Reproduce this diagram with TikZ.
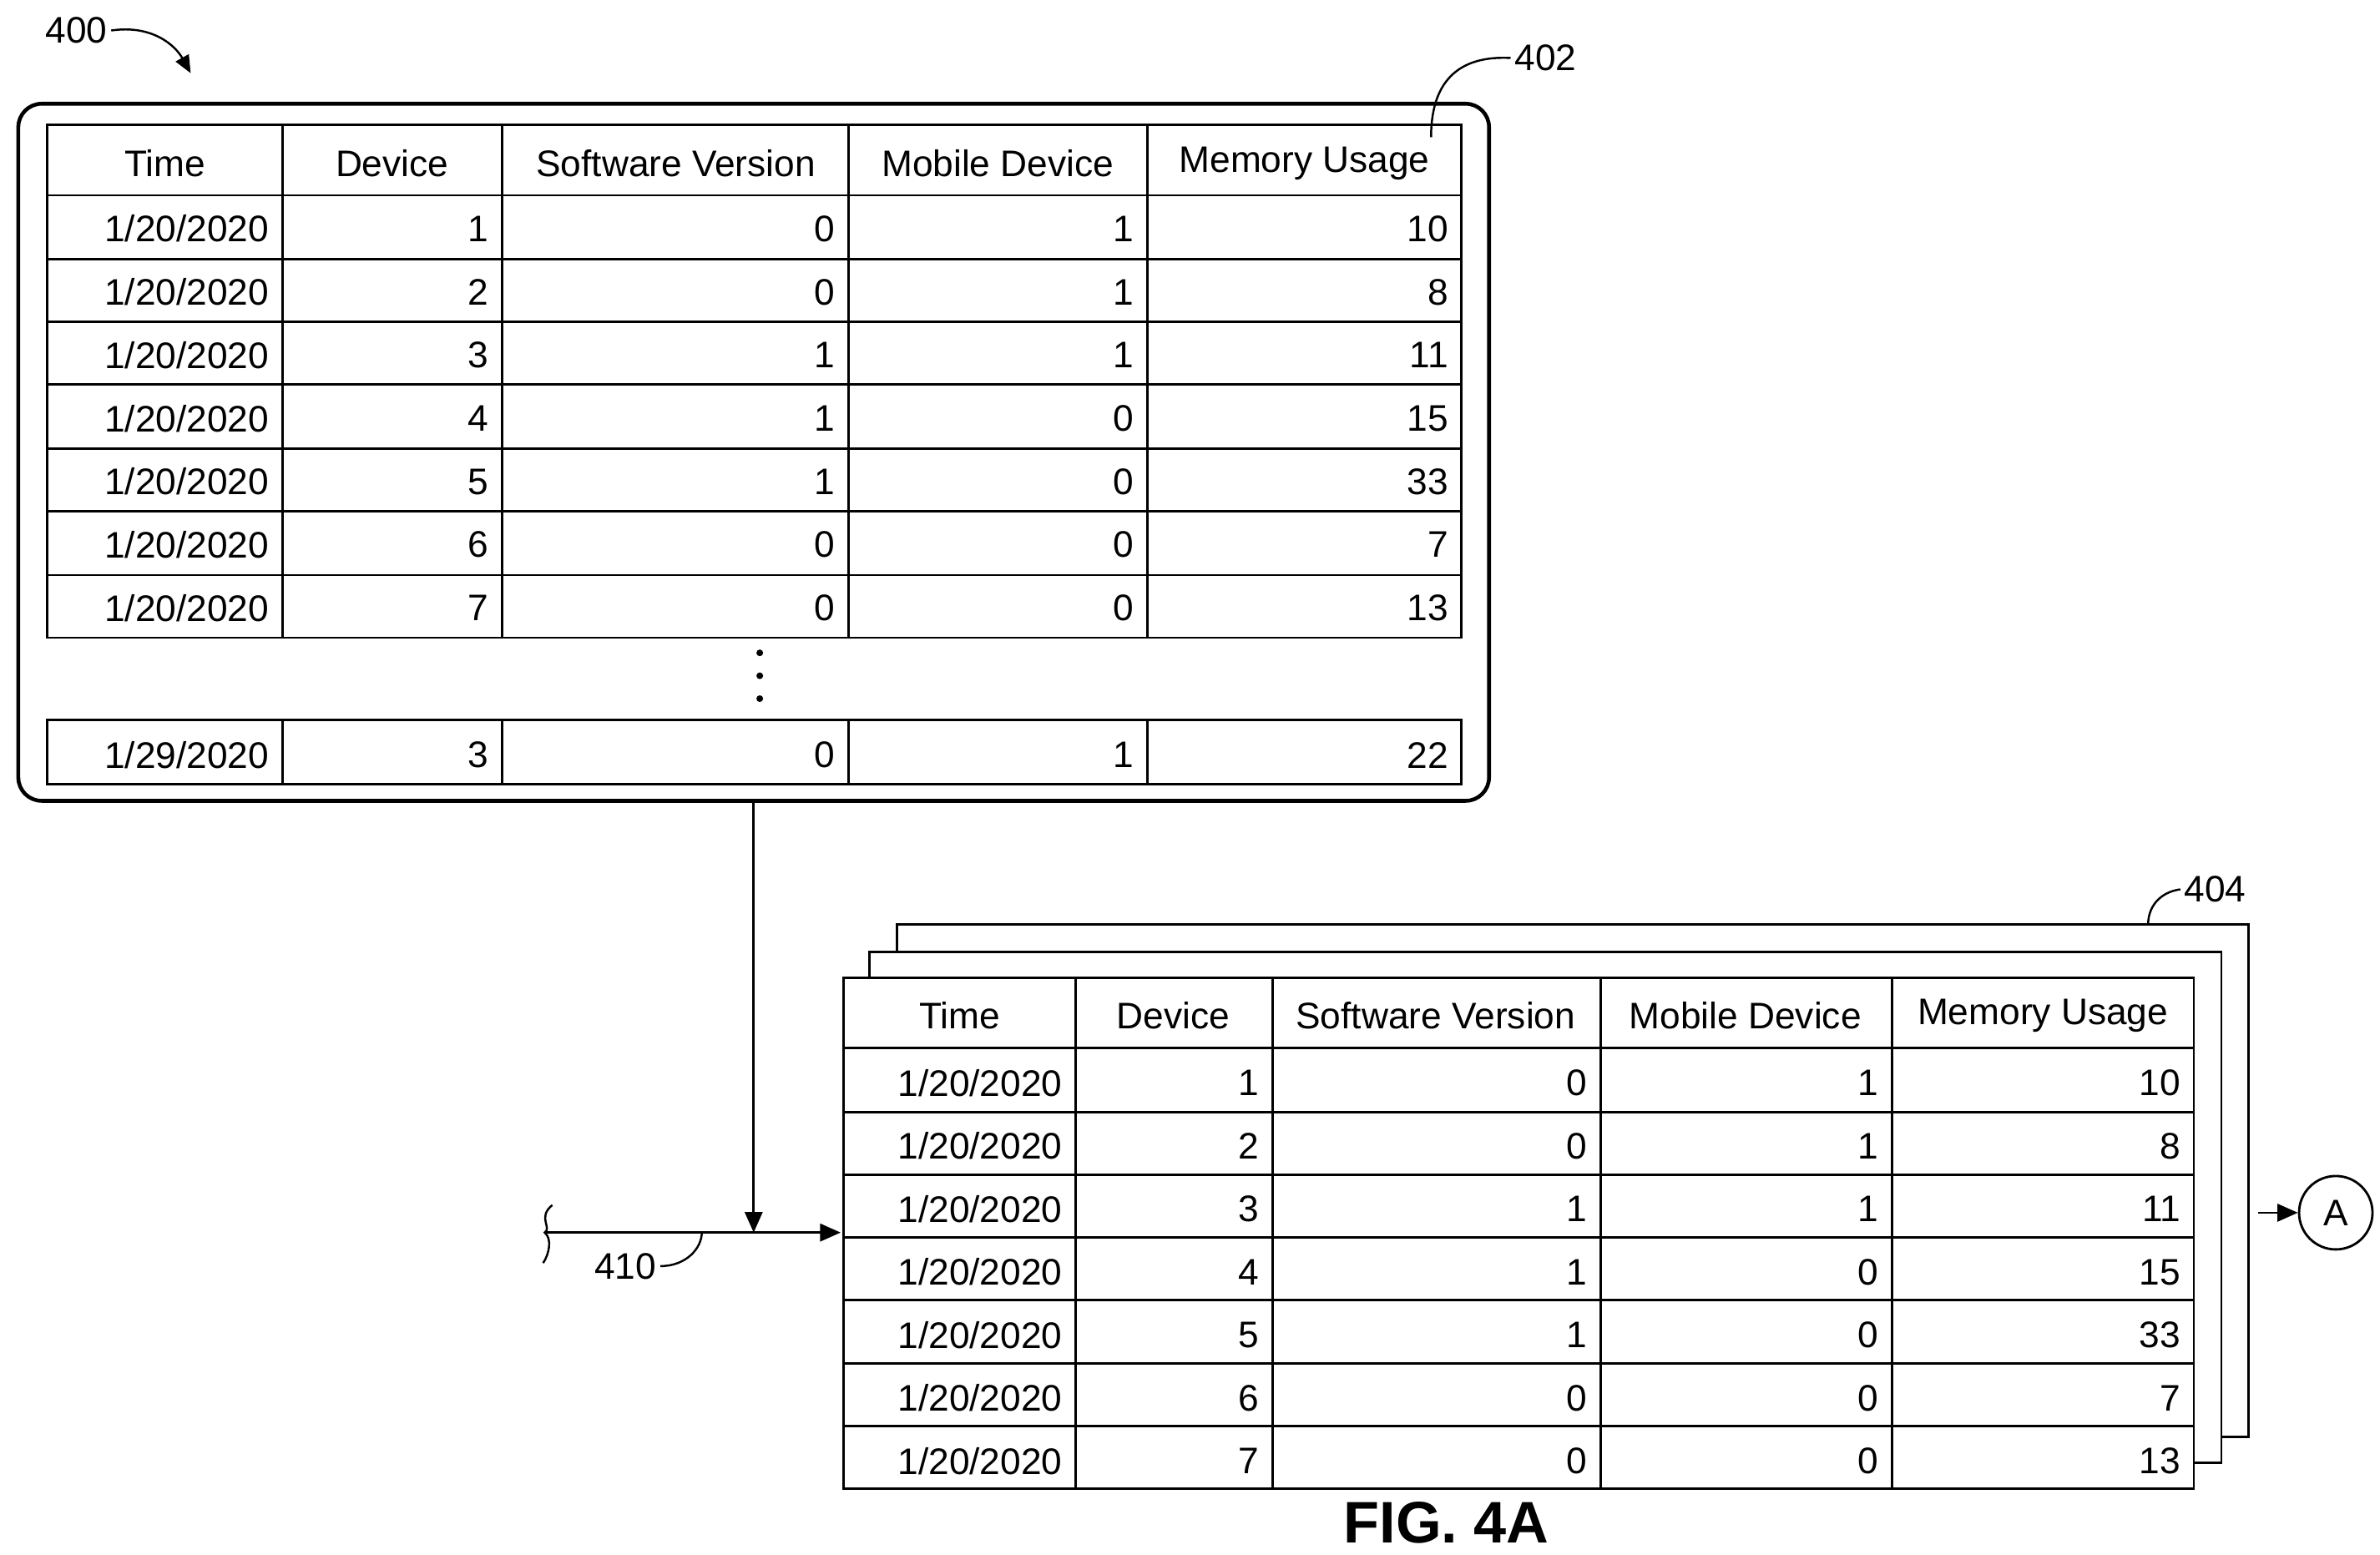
\documentclass[tikz,border=0pt]{standalone}
\usepackage{fontspec}
\setmainfont{Liberation Sans}
\usetikzlibrary{positioning,arrows.meta}
\begin{document}
\begin{tikzpicture}[
  x=0.018276cm, y=-0.018276cm,
  line width=0.8pt,
  cell/.style={anchor=east, inner sep=0pt, font=\fontsize{12.6}{14}\selectfont},
  head/.style={anchor=center, inner sep=0pt, font=\fontsize{12.6}{14}\selectfont},
  ref/.style={inner sep=1pt, font=\fontsize{12.6}{14}\selectfont},
  lead/.style={line width=0.7pt},
  flow/.style={-{Triangle[length=7pt,width=6pt]}},
]
\useasboundingbox (0,0) rectangle (1560,1019);

% first table 402, in its rounded frame
\draw[line width=1.3pt, rounded corners=8pt] (12,68) rectangle (976,525);
\draw (31,82) rectangle (958,418);
\foreach \y in {128,170,211,252,294,335,377}
  \draw (31,\y) -- (958,\y);
\foreach \x in {185,329,556,752} {
  \draw (\x,82) -- (\x,418);
  \draw (\x,472) -- (\x,514);
}
\draw (31,472) rectangle (958,514);
\foreach \t/\x in {Time/108, Device/257, Software Version/443, Mobile Device/654, Memory Usage/855}
  \node[head] at (\x,107) {\t};
\foreach \d/\sv/\mb/\mu [count=\i] in {1/0/1/10, 2/0/1/8, 3/1/1/11, 4/1/0/15, 5/1/0/33, 6/0/0/7, 7/0/0/13} {
  \pgfmathsetmacro\yy{128+41.43*(\i-1)+22}
  \node[cell] at (177,\yy) {1/20/2020};
  \node[cell] at (321,\yy) {\d};
  \node[cell] at (548,\yy) {\sv};
  \node[cell] at (744,\yy) {\mb};
  \node[cell] at (950,\yy) {\mu};
}
\foreach \y in {428,443,458}
  \fill (498,\y) circle (2.2);
\node[cell] at (177,495) {1/29/2020};
\node[cell] at (321,495) {3};
\node[cell] at (548,495) {0};
\node[cell] at (744,495) {1};
\node[cell] at (950,495) {22};

% second table 404, a stack of sheets
\draw (588,624) -- (588,606) -- (1474,606) -- (1474,942) -- (1456,942);
\draw (570,641) -- (570,624) -- (1456,624) -- (1456,959) -- (1438,959);
\draw[fill=white] (553,641) rectangle (1438,976);
\foreach \y in {687,729,770,811,852,894,935}
  \draw (553,\y) -- (1438,\y);
\foreach \x in {705,834,1049,1240}
  \draw (\x,641) -- (\x,976);
\foreach \t/\x in {Time/629, Device/769, Software Version/941, Mobile Device/1144, Memory Usage/1339}
  \node[head] at (\x,666) {\t};
\foreach \d/\sv/\mb/\mu [count=\i] in {1/0/1/10, 2/0/1/8, 3/1/1/11, 4/1/0/15, 5/1/0/33, 6/0/0/7, 7/0/0/13} {
  \pgfmathsetmacro\yy{687+41.3*(\i-1)+23}
  \node[cell] at (697,\yy) {1/20/2020};
  \node[cell] at (826,\yy) {\d};
  \node[cell] at (1041,\yy) {\sv};
  \node[cell] at (1232,\yy) {\mb};
  \node[cell] at (1430,\yy) {\mu};
}

% connectors
\coordinate (drop) at (494,525);
\coordinate (join) at (494,808);
\coordinate (feed) at (357,808);
\coordinate (tabin) at (551,808);
\coordinate (tabout) at (1480,795);
\draw[flow] (drop) -- (join);
\draw[flow] (feed) -- (tabin);
\draw[lead] (362,790) .. controls (352,798) and (362,805) .. (feed)
  .. controls (362,812) and (360,822) .. (356,828);
\node[circle, draw, minimum size=0.88cm, inner sep=0pt, font=\fontsize{12.6}{14}\selectfont] (A) at (1531,795) {A};
\draw[flow] (tabout) -- (A.west);

% reference numerals
\node[ref] (n400) at (50,20) {400};
\draw[lead, -{Triangle[length=6pt,width=5pt]}] (n400.east) .. controls (100,16) and (115,30) .. (125,48);
\node[ref] (n402) at (1013,38) {402};
\draw[lead] (n402.west) .. controls (950,36) and (938,60) .. (938,90);
\node[ref] (n404) at (1452,583) {404};
\draw[lead] (n404.west) .. controls (1415,585) and (1408,595) .. (1408,606);
\node[ref] (n410) at (410,830) {410};
\draw[lead] (n410.east) .. controls (450,830) and (460,818) .. (460,808);

\node[font=\bfseries\fontsize{20}{24}\selectfont] (fig) at (948,998) {FIG. 4A};
\end{tikzpicture}
\end{document}
